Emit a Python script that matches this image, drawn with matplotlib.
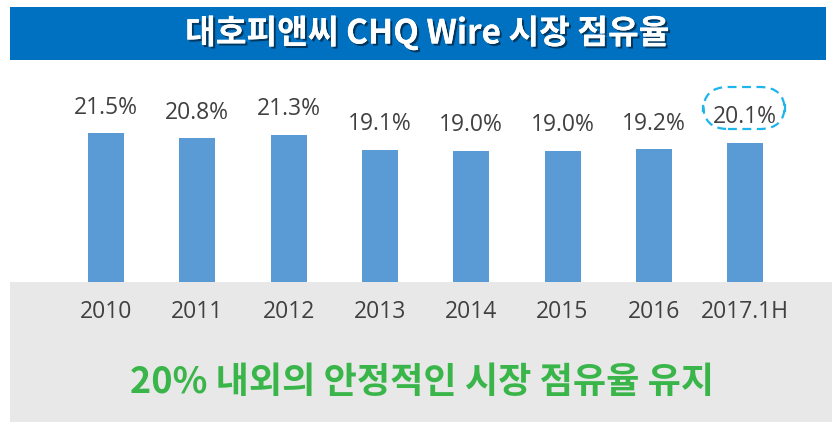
import matplotlib
matplotlib.use("Agg")
import matplotlib.pyplot as plt
import matplotlib.patheffects as pe
from matplotlib.patches import Rectangle, FancyBboxPatch
from matplotlib.transforms import blended_transform_factory

categories = ["2010", "2011", "2012", "2013", "2014", "2015", "2016", "2017.1H"]
shares = [21.5, 20.8, 21.3, 19.1, 19.0, 19.0, 19.2, 20.1]
value_labels = ["21.5%", "20.8%", "21.3%", "19.1%", "19.0%", "19.0%", "19.2%", "20.1%"]
title = "대호피앤씨 CHQ Wire 시장 점유율"
footer = "20% 내외의 안정적인 시장 점유율 유지"

W, H = 832, 422
fig = plt.figure(figsize=(W / 100, H / 100), dpi=100)
fig.patch.set_facecolor("white")

KR = ["Noto Sans CJK KR", "DejaVu Sans"]
NUM = ["Open Sans", "Noto Sans", "DejaVu Sans"]
TXT = "#404040"

def px(x0, y0_top, w, h):
    return [x0 / W, (H - y0_top - h) / H, w / W, h / H]

# title bar
fig.add_artist(Rectangle((10 / W, (H - 60) / H), 816 / W, 53 / H,
                         transform=fig.transFigure, facecolor="#0070C0",
                         edgecolor="none", zorder=0))
fig.text(427 / W, (H - 33) / H, title, ha="center", va="center",
         color="white", fontsize=24, fontweight="bold", family=KR, zorder=3,
         path_effects=[pe.withSimplePatchShadow(offset=(1.5, -1.5),
                                                shadow_rgbFace="black", alpha=0.5),
                       pe.Normal()])

# gray bottom area
fig.add_artist(Rectangle((10 / W, 0), (W - 10) / W, (H - 282) / H,
                         transform=fig.transFigure, facecolor="#E8E8E8",
                         edgecolor="none", zorder=0))

# bar axes: slot width ~91.3 px, first center ~106 px
slot = 91.3
x_left = 106 - slot / 2
ax = fig.add_axes(px(x_left, 70, slot * 8, 212))
ax.set_zorder(2)
ax.patch.set_alpha(0)
xs = list(range(len(categories)))
ax.bar(xs, shares, width=36 / slot, color="#5B9BD5", edgecolor="none")
ax.set_xlim(-0.5, len(categories) - 0.5)
ax.set_ylim(0, 212 / 6.92)
ax.axis("off")

for x, v, lab in zip(xs, shares, value_labels):
    ax.annotate(lab, (x, v), xytext=(0, 25.5 * 0.72), textcoords="offset points",
                ha="center", va="center", fontsize=16.5, color=TXT, family=NUM)

tr = blended_transform_factory(ax.transData, fig.transFigure)
for x, c in zip(xs, categories):
    ax.text(x, (H - 311.5) / H, c, transform=tr, ha="center", va="center",
            fontsize=16.5, color=TXT, family=NUM, clip_on=False)

# dashed rounded box around last label
box = FancyBboxPatch((703 / W, (H - 129) / H), 82 / W, 42 / H,
                     boxstyle="round,pad=0,rounding_size=0.03",
                     transform=fig.transFigure, facecolor="none",
                     edgecolor="#1EB4EC", linewidth=1.6, linestyle=(0, (4, 2.5)),
                     zorder=3, mutation_aspect=W / H)
fig.add_artist(box)

# footer text
fig.text(422 / W, (H - 383) / H, footer, ha="center", va="center",
         color="#3AB54A", fontsize=26, fontweight="bold", family=KR, zorder=3)

fig.savefig("out.png", dpi=100)
